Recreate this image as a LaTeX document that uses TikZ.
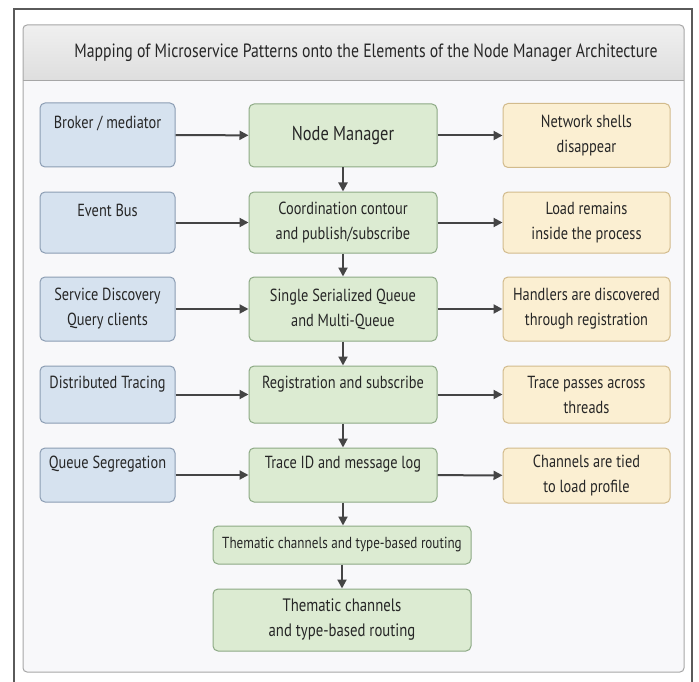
\documentclass[tikz,border=0pt]{standalone}
\usepackage{fontspec}
\setmainfont[FakeStretch=0.82]{PT Sans}
\usetikzlibrary{arrows.meta}
\definecolor{cframe}{HTML}{5A5A5A}
\definecolor{cpanel}{HTML}{F8F8FA}
\definecolor{cline}{HTML}{A6A6A6}
\definecolor{cink}{HTML}{262626}
\definecolor{cblue}{HTML}{D6E2EF}
\definecolor{cblueb}{HTML}{8C9DB3}
\definecolor{cgreen}{HTML}{DCEBD2}
\definecolor{cgreenb}{HTML}{8DA985}
\definecolor{cyell}{HTML}{FBEFD2}
\definecolor{cyellb}{HTML}{D2BB8C}
\definecolor{carrow}{HTML}{454545}
\tikzset{boxbase/.style={rounded corners=5pt,line width=1pt,align=center,text=cink,
           font=\fontsize{17.5}{25}\selectfont,inner sep=2pt}}
\tikzset{patbox/.style={boxbase,fill=cblue,draw=cblueb,minimum width=135pt},
         elbox/.style={boxbase,fill=cgreen,draw=cgreenb,minimum width=188pt},
         effbox/.style={boxbase,fill=cyell,draw=cyellb,minimum width=167pt},
         flow/.style={carrow,line width=2pt,-{Triangle[length=9pt,width=9pt]}}}

\begin{document}
\begin{tikzpicture}[x=1pt,y=-1pt]
    \useasboundingbox (0,0) rectangle (699,682);
    \draw[cframe,line width=1.2pt] (14,682) -- (14,9) -- (692,9) -- (692,682);
    \fill[cpanel,rounded corners=4pt] (23,25) rectangle (684,672);
    \shade[top color=black!6,bottom color=black!13] (23,81) [rounded corners=4pt] -- (23,25) -- (684,25) [sharp corners] -- (684,81) -- cycle;
    \draw[cline,line width=1pt,rounded corners=4pt] (23,25) rectangle (684,672);
    \draw[cline,line width=1pt] (23,81) -- (684,81);
    \node[text=cink,font=\fontsize{19.2}{23}\selectfont] (title) at (366,53)
        {Mapping of Microservice Patterns onto the Elements of the Node Manager Architecture};
    % patterns
    \node[patbox,minimum height=64pt] (bro)    at (107.5,135)   {Broker / mediator\\\mbox{}};
    \node[patbox,minimum height=61pt] (evbus)  at (107.5,222.5) {Event Bus\\\mbox{}};
    \node[patbox,minimum height=64pt] (sdisc)  at (107.5,309)   {Service Discovery\\Query clients};
    \node[patbox,minimum height=57pt] (dtrace) at (107.5,394.5) {Distributed Tracing\\\mbox{}};
    \node[patbox,minimum height=54pt] (qseg)   at (107.5,475)   {Queue Segregation\\\mbox{}};
    % elements of the node manager
    \node[elbox,minimum height=63pt,font=\fontsize{20}{24}\selectfont] (nm) at (343,135.5) {Node Manager};
    \node[elbox,minimum height=61pt] (coord)  at (343,222.5) {Coordination contour\\and publish/subscribe};
    \node[elbox,minimum height=64pt] (queue)  at (343,309)   {Single Serialized Queue\\and Multi-Queue};
    \node[elbox,minimum height=57pt] (reg)    at (343,394.5) {Registration and subscribe\\\mbox{}};
    \node[elbox,minimum height=54pt] (trace)  at (343,475)   {Trace ID and message log\\\mbox{}};
    \node[elbox,minimum width=258pt,minimum height=38pt,font=\fontsize{16}{20}\selectfont] (chan) at (342,545) {Thematic channels and type-based routing};
    \node[elbox,minimum width=258pt,minimum height=62pt,font=\fontsize{18}{25}\selectfont] (chanb) at (342,620) {Thematic channels\\and type-based routing};
    % effects
    \node[effbox,minimum height=64pt] (shells)   at (586.5,135.5) {Network shells\\disappear};
    \node[effbox,minimum height=61pt] (load)     at (586.5,222.5) {Load remains\\inside the process};
    \node[effbox,minimum height=64pt] (handlers) at (586.5,309)   {Handlers are discovered\\through registration};
    \node[effbox,minimum height=57pt] (tpass)    at (586.5,394.5) {Trace passes across\\threads};
    \node[effbox,minimum height=55pt] (tied)     at (586.5,475.5) {Channels are tied\\to load profile};
    \foreach \a/\b in {bro/nm,evbus/coord,sdisc/queue,dtrace/reg,qseg/trace,
                       nm/shells,coord/load,queue/handlers,reg/tpass,trace/tied}
        \draw[flow] (\a) -- (\b);
    \foreach \a/\b in {nm/coord,coord/queue,queue/reg,reg/trace,trace/chan,chan/chanb}
        \draw[flow] (\a.south) -- (\a.south |- \b.north);
\end{tikzpicture}
\end{document}
